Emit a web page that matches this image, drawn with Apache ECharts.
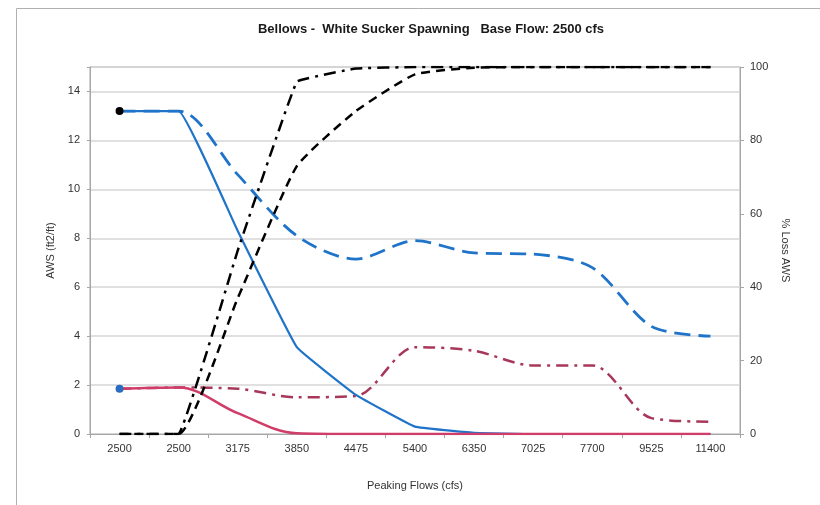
<!DOCTYPE html>
<html>
<head>
<meta charset="utf-8">
<script src="https://cdn.jsdelivr.net/npm/echarts@6/dist/echarts.min.js"></script>
<style>
  html, body { margin: 0; padding: 0; background: #fff; }
  #chart { width: 820px; height: 505px; }
</style>
</head>
<body>
<div id="chart"></div>
<script>
// Peaking flow steps (cfs); the base flow appears twice
const flows = ['2500', '2500', '3175', '3850', '4475', '5400', '6350', '7025', '7700', '9525', '11400'];

// AWS (ft2/ft), left axis
const awsBlue      = [13.2, 13.2, 8.3, 3.55, 1.6, 0.3, 0.05, 0, 0, 0, 0];
const awsRed       = [1.85, 1.9, 0.85, 0.03, 0, 0, 0, 0, 0, 0, 0];
const awsBlueDash  = [13.2, 13.2, 10.6, 8.1, 7.15, 7.9, 7.4, 7.35, 6.8, 4.4, 4.0];
const awsRedDash   = [1.85, 1.9, 1.85, 1.5, 1.55, 3.55, 3.4, 2.8, 2.8, 0.65, 0.5];

// % loss of AWS, right axis
const lossDashDot  = [0, 0, 50, 96, 99.6, 100, 100, 100, 100, 100, 100];
const lossDashed   = [0, 0, 37, 73, 88, 98, 99.8, 100, 100, 100, 100];

const leftTicks = { min: 0, max: 15, interval: 2 };
const rightTicks = { min: 0, max: 100, interval: 20 };

const font = 'Liberation Sans, Arial, sans-serif';
const axisGray = '#a6a6a6';

// first point of a series carries a round marker
function withFirstMarker(values, color) {
  return values.map((v, i) => i === 0
    ? { value: v, symbol: 'circle', symbolSize: 8, itemStyle: { color: color } }
    : v);
}

const chart = echarts.init(document.getElementById('chart'), null, { renderer: 'canvas' });

chart.setOption({
  backgroundColor: '#fff',
  animation: false,
  title: {
    text: 'Bellows -  White Sucker Spawning   Base Flow: 2500 cfs',
    left: 426, top: 18, textAlign: 'center',
    textStyle: { fontFamily: font, fontSize: 13, fontWeight: 'bold', color: '#1a1a1a' }
  },
  graphic: [{
    type: 'rect', silent: true, z: -10,
    shape: { x: 16.5, y: 8.5, width: 830, height: 520 },
    style: { fill: 'none', stroke: '#b0b0b0', lineWidth: 1 }
  }],
  grid: {
    left: 90, right: 80, top: 67, bottom: 71,
    show: true, borderColor: axisGray, borderWidth: 1, backgroundColor: 'transparent'
  },
  xAxis: {
    type: 'category',
    data: flows,
    boundaryGap: true,
    name: 'Peaking Flows (cfs)',
    nameLocation: 'middle',
    nameGap: 46,
    nameTextStyle: { fontFamily: font, fontSize: 11, color: '#333' },
    axisLine: { lineStyle: { color: axisGray } },
    axisTick: { show: true, length: 4, lineStyle: { color: axisGray } },
    axisLabel: { fontFamily: font, fontSize: 11, color: '#333', margin: 9, interval: 0 },
    splitLine: { show: false }
  },
  yAxis: [{
    type: 'value',
    min: leftTicks.min, max: leftTicks.max, interval: leftTicks.interval,
    name: 'AWS (ft2/ft)',
    nameLocation: 'middle',
    nameRotate: 90,
    nameGap: 33,
    nameTextStyle: { fontFamily: font, fontSize: 11, color: '#333' },
    axisLine: { show: true, lineStyle: { color: axisGray } },
    axisTick: { show: true, length: 3, lineStyle: { color: axisGray } },
    axisLabel: {
      fontFamily: font, fontSize: 11, color: '#333', margin: 10,
      formatter: v => (v > 14 ? '' : String(v))
    },
    splitLine: { show: true, lineStyle: { color: '#d6d6d6', width: 1.5 } }
  }, {
    type: 'value',
    position: 'right',
    min: rightTicks.min, max: rightTicks.max, interval: rightTicks.interval,
    name: '% Loss AWS',
    nameLocation: 'middle',
    nameRotate: -90,
    nameGap: 40,
    nameTextStyle: { fontFamily: font, fontSize: 11, color: '#333' },
    axisLine: { show: true, lineStyle: { color: axisGray } },
    axisTick: { show: true, length: 4, lineStyle: { color: axisGray } },
    axisLabel: { fontFamily: font, fontSize: 11, color: '#333', margin: 10 },
    splitLine: { show: false }
  }],
  series: [{
    name: 'AWS dashed blue',
    type: 'line', yAxisIndex: 0, symbol: 'none', smooth: 0.3, z: 2,
    data: awsBlueDash,
    lineStyle: { color: '#1f74c9', width: 2.8, type: [16, 8] }
  }, {
    name: 'AWS dash-dot red',
    type: 'line', yAxisIndex: 0, symbol: 'none', smooth: 0.3, z: 2,
    data: awsRedDash,
    lineStyle: { color: '#a8385a', width: 2.5, type: [12, 6, 3, 6] }
  }, {
    name: 'AWS blue',
    type: 'line', yAxisIndex: 0, symbol: 'none', smooth: 0.08, z: 3,
    data: withFirstMarker(awsBlue, '#000'),
    lineStyle: { color: '#1f74c9', width: 2.2 }
  }, {
    name: 'AWS red',
    type: 'line', yAxisIndex: 0, symbol: 'none', smooth: 0.35, z: 3,
    data: withFirstMarker(awsRed, '#2a6cc0'),
    lineStyle: { color: '#cf3d68', width: 2.5 }
  }, {
    name: 'Loss dash-dot',
    type: 'line', yAxisIndex: 1, symbol: 'none', smooth: 0.05, z: 4,
    data: lossDashDot,
    lineStyle: { color: '#000', width: 2.5, type: [12, 6, 3, 6] }
  }, {
    name: 'Loss dashed',
    type: 'line', yAxisIndex: 1, symbol: 'none', smooth: 0.15, z: 4,
    data: lossDashed,
    lineStyle: { color: '#000', width: 2.5, type: [9, 6] }
  }]
});
</script>
</body>
</html>
